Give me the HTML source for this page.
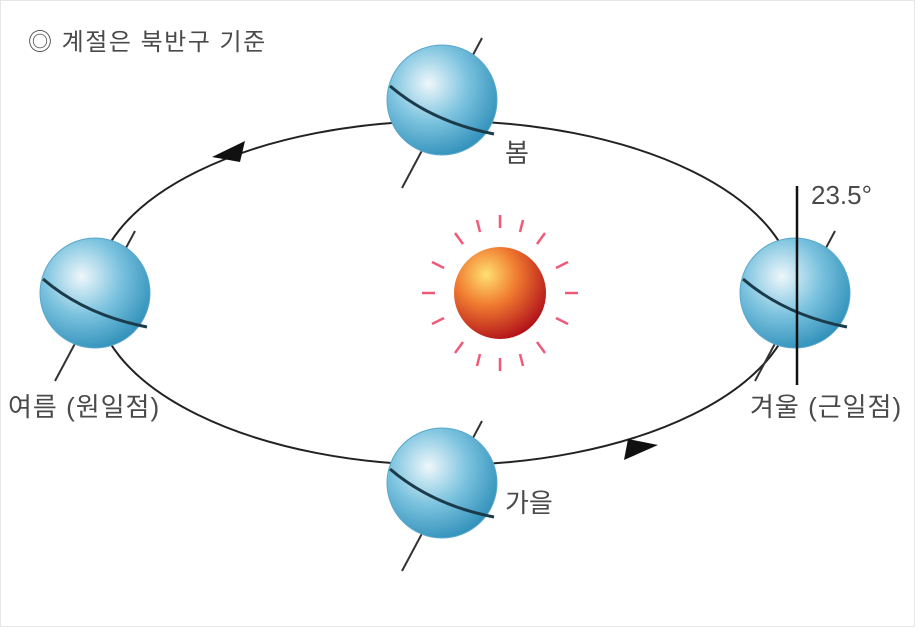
<!DOCTYPE html>
<html><head><meta charset="utf-8"><style>
body{margin:0;background:#fff}
text{font-family:"Liberation Sans","Noto Sans CJK KR",sans-serif;fill:#4a4a4a}
</style></head><body>
<svg width="920" height="629" viewBox="0 0 920 629">
<defs>
<radialGradient id="g" cx="0.38" cy="0.35" r="0.7">
<stop offset="0" stop-color="#eef7fb"/><stop offset="0.5" stop-color="#7cc3df"/><stop offset="1" stop-color="#2f8fb9"/>
</radialGradient>
<radialGradient id="s" cx="0.35" cy="0.3" r="0.75">
<stop offset="0" stop-color="#ffe070"/><stop offset="0.45" stop-color="#f07a30"/><stop offset="1" stop-color="#b0101a"/>
</radialGradient>
<g id="globe">
<line x1="40" y1="-62" x2="-40" y2="88" stroke="#333" stroke-width="2"/>
<circle r="55" fill="url(#g)" stroke="#5aa8cc" stroke-width="1"/>
<path d="M-52,-14 Q-10,22 52,34" fill="none" stroke="#1b3a4a" stroke-width="3"/>
</g>
</defs>
<rect x="0.5" y="0.5" width="914" height="626" fill="none" stroke="#e6e6e6"/>
<text x="28" y="50" font-size="24" letter-spacing="1.5">◎ 계절은 북반구 기준</text>
<ellipse cx="445" cy="293" rx="350" ry="172" fill="none" stroke="#222" stroke-width="2"/>
<polygon points="212,157 245,141 240,162" fill="#111"/>
<polygon points="658,445 624,460 628,439" fill="#111"/>
<use href="#globe" x="442" y="100"/>
<use href="#globe" x="95" y="293"/>
<use href="#globe" x="442" y="483"/>
<use href="#globe" x="795" y="293"/>
<line x1="797" y1="186" x2="797" y2="385" stroke="#111" stroke-width="2.5"/>
<g stroke="#f05a78" stroke-width="2.5">
<line x1="500" y1="215" x2="500" y2="228"/><line x1="500" y1="358" x2="500" y2="371"/>
<line x1="422" y1="293" x2="435" y2="293"/><line x1="565" y1="293" x2="578" y2="293"/>
<line x1="455" y1="233" x2="463" y2="244"/><line x1="545" y1="233" x2="537" y2="244"/>
<line x1="455" y1="353" x2="463" y2="342"/><line x1="545" y1="353" x2="537" y2="342"/>
<line x1="432" y1="262" x2="444" y2="268"/><line x1="568" y1="262" x2="556" y2="268"/>
<line x1="432" y1="324" x2="444" y2="318"/><line x1="568" y1="324" x2="556" y2="318"/>
<line x1="477" y1="220" x2="480" y2="232"/><line x1="523" y1="220" x2="520" y2="232"/>
<line x1="477" y1="366" x2="480" y2="354"/><line x1="523" y1="366" x2="520" y2="354"/>
</g>
<circle cx="500" cy="293" r="46" fill="url(#s)"/>
<text x="505" y="162" font-size="26">봄</text>
<text x="505" y="512" font-size="26">가을</text>
<text x="8" y="416" font-size="26" letter-spacing="1">여름 (원일점)</text>
<text x="750" y="416" font-size="26" letter-spacing="1">겨울 (근일점)</text>
<text x="811" y="204" font-size="26">23.5°</text>
</svg>
</body></html>
